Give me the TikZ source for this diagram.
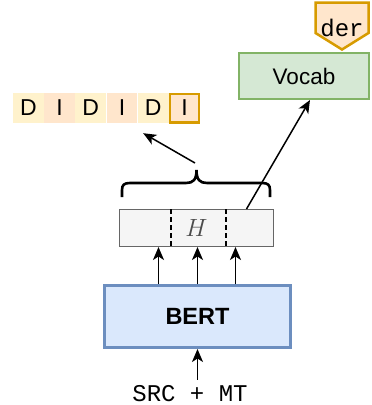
\documentclass[tikz,border=0pt]{standalone}
\usepackage{fontspec}
\setsansfont{Liberation Sans}
\setmonofont{Liberation Mono}
\usetikzlibrary{arrows.meta}
\usetikzlibrary{positioning}

\begin{document}
\begin{tikzpicture}[x=1pt, y=1pt,
		cell/.style={minimum width=30.8pt, minimum height=30pt, inner sep=0pt, font=\sffamily\fontsize{23}{27}\selectfont},
		arr/.style={-{Stealth[length=13pt, width=11pt, inset=3.5pt]}, line width=1.5pt},
		mono/.style={font=\ttfamily\fontsize{24}{28}\selectfont, inner sep=0pt}]
			\definecolor{DFILL}{HTML}{FFF2CC}
			\definecolor{IFILL}{HTML}{FFE6CC}
			\definecolor{ORANGE}{HTML}{D79B00}
			\definecolor{GFILL}{HTML}{D5E8D4}
			\definecolor{GREEN}{HTML}{82B366}
			\definecolor{BFILL}{HTML}{DAE8FC}
			\definecolor{BLUE}{HTML}{6C8EBF}
			\definecolor{HFILL}{HTML}{F5F5F5}
			\definecolor{HGRAY}{HTML}{666666}
			\useasboundingbox (0,0) rectangle (372,-405);
			% output tags
			\node[cell, fill=DFILL] (d1) at (28.4,-108) {D};
			\node[cell, fill=IFILL, right=0pt of d1] (i1) {I};
			\node[cell, fill=DFILL, right=0pt of i1] (d2) {D};
			\node[cell, fill=IFILL, right=0pt of d2] (i2) {I};
			\node[cell, fill=DFILL, right=0pt of i2] (d3) {D};
			\node[cell, fill=IFILL, right=0pt of d3, draw=ORANGE, line width=2.5pt, minimum width=29pt, minimum height=28.5pt] (i3) {I};
			% vocabulary
			\node[draw=GREEN, fill=GFILL, line width=2pt, minimum width=130pt, minimum height=46pt, font=\sffamily\fontsize{22.5}{27}\selectfont] (vocab) at (304,-76) {Vocab};
			\filldraw[draw=ORANGE, fill=IFILL, line width=2.5pt, line join=miter] (315.5,-2.5) -- (368.5,-2.5) -- (368.5,-33) -- (342,-49.5) -- (315.5,-33) -- cycle;
			\node[mono] (der) at (342,-28) {der};
			% hidden states
			\node[draw=HGRAY, fill=HFILL, line width=1pt, minimum width=154pt, minimum height=37pt, font=\fontsize{23}{27}\selectfont, text=black!70] (hbox) at (196.5,-228) {$H$};
			\draw[line width=1.2pt, dash pattern=on 5pt off 3pt] ([xshift=-25.5pt]hbox.north) -- ([xshift=-25.5pt]hbox.south);
			\draw[line width=1.2pt, dash pattern=on 5pt off 3pt] ([xshift=29.5pt]hbox.north) -- ([xshift=29.5pt]hbox.south);
			\draw[line width=2.6pt] (122,-197) -- (122,-190) .. controls (122,-185) and (124,-183) .. (130,-183) -- (186,-183) .. controls (193,-183) and (196.5,-180) .. (196.5,-170) .. controls (196.5,-180) and (200,-183) .. (207,-183) -- (262,-183) .. controls (268,-183) and (270,-185) .. (270,-190) -- (270,-197);
			\coordinate (bracetip) at (195,-163);
			% encoder
			\node[draw=BLUE, fill=BFILL, line width=3pt, minimum width=186pt, minimum height=62pt, font=\sffamily\bfseries\fontsize{23.5}{28}\selectfont] (bert) at (197.5,-316.5) {BERT};
			\node[mono] (src) at (190,-394) {SRC + MT};
			% connectors
			\draw[arr] (src.north -| bert.south) ++(0,6) -- (bert.south);
			\draw[arr] ([xshift=-39pt]bert.north) -- ([xshift=-39pt]bert.north |- hbox.south);
			\draw[arr] (bert.north) -- (bert.north |- hbox.south);
			\draw[arr] ([xshift=38pt]bert.north) -- ([xshift=38pt]bert.north |- hbox.south);
			\draw[arr] (bracetip) -- ([xshift=-10pt, yshift=-10pt]d3.south);
			\draw[arr] ([xshift=50pt]hbox.north) -- ([xshift=6pt]vocab.south);
		\end{tikzpicture}
\end{document}
